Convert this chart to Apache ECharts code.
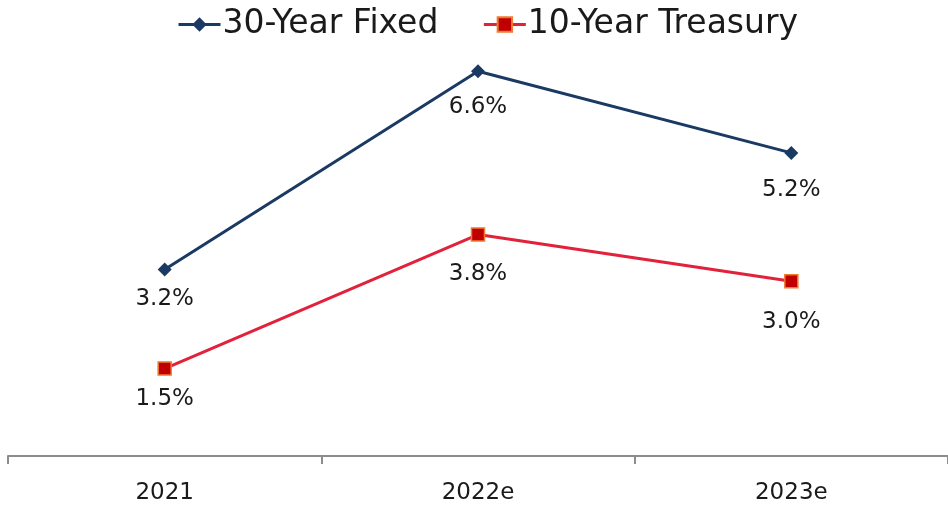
<!DOCTYPE html>
<html><head><meta charset="utf-8">
<script src="https://cdn.jsdelivr.net/npm/echarts@6/dist/echarts.min.js"></script>
<style>html,body{margin:0;padding:0;background:#fff}#c{width:948px;height:512px}</style>
</head><body><div id="c"></div>
<script>
const categories = ['2021', '2022e', '2023e'];
const fixed30 = [3.2, 6.6, 5.2];
const treasury10 = [1.5, 3.8, 3.0];
const seriesNames = ['30-Year Fixed', '10-Year Treasury'];

// label gaps below each point (layout only)
const fixedLabelGap = [11, 17, 19];
const treasuryLabelGap = [12, 21, 22];

const FONT = '"DejaVu Sans", sans-serif';
const chart = echarts.init(document.getElementById('c'));
const lbl = {
  show: true, position: 'bottom',
  formatter: p => p.value.toFixed(1) + '%',
  fontFamily: FONT, fontSize: 23, color: '#1a1a1a'
};
const withGaps = (vals, gaps) => vals.map((v, i) => ({ value: v, label: { distance: gaps[i] } }));
chart.setOption({
  animation: false,
  legend: {
    top: 3, left: 172, itemGap: 44, itemWidth: 42, itemHeight: 18,
    lineStyle: { width: 3 },
    textStyle: { fontFamily: FONT, fontSize: 33, color: '#1a1a1a', padding: [0, 0, 0, -3] },
    data: seriesNames
  },
  grid: { left: 8, right: 0, top: 48, bottom: 56 },
  xAxis: {
    type: 'category', data: categories, boundaryGap: true,
    axisLine: { lineStyle: { color: '#8c8c8c', width: 2 } },
    axisTick: { show: true, length: 8, lineStyle: { color: '#8c8c8c', width: 2 } },
    axisLabel: { fontFamily: FONT, fontSize: 23, color: '#1a1a1a', margin: 26 }
  },
  yAxis: { type: 'value', min: 0, max: 7, show: false, splitLine: { show: false } },
  series: [
    {
      name: seriesNames[0], type: 'line', data: withGaps(fixed30, fixedLabelGap),
      symbol: 'diamond', symbolSize: 14,
      lineStyle: { color: '#1a3a64', width: 3 },
      itemStyle: { color: '#1a3a64' },
      label: lbl
    },
    {
      name: seriesNames[1], type: 'line', data: withGaps(treasury10, treasuryLabelGap),
      symbol: 'rect', symbolSize: 13,
      lineStyle: { color: '#e2223b', width: 3 },
      itemStyle: { color: '#c00000', borderColor: '#f07a30', borderWidth: 1.5 },
      label: lbl
    }
  ]
});
</script></body></html>
